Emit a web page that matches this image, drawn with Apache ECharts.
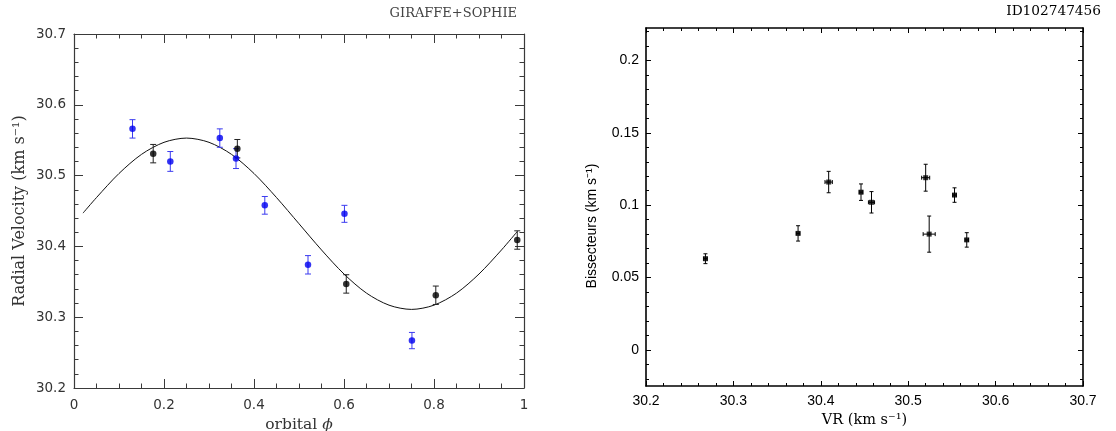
<!DOCTYPE html>
<html><head><meta charset="utf-8">
<script src="https://cdn.jsdelivr.net/npm/echarts@6/dist/echarts.min.js"></script>
<style>html,body{margin:0;padding:0;background:#fff}#c{width:1116px;height:431px}</style>
</head><body><div id="c"></div>
<script>
// ---- Left panel: radial velocity vs orbital phase ----
const phaseBlue = [0.130, 0.214, 0.324, 0.360, 0.424, 0.520, 0.601, 0.751];
const rvBlue    = [30.566, 30.520, 30.553, 30.524, 30.458, 30.374, 30.446, 30.267];
const errBlue   = [0.013, 0.014, 0.013, 0.014, 0.0125, 0.013, 0.012, 0.0115];
const phaseBlack = [0.176, 0.363, 0.605, 0.804, 0.985];
const rvBlack    = [30.531, 30.538, 30.347, 30.331, 30.409];
const errBlack   = [0.013, 0.013, 0.013, 0.013, 0.013];
// orbital fit
const fitPhase = [0.02, 0.05, 0.10, 0.15, 0.20, 0.25, 0.30, 0.35, 0.40, 0.45, 0.50, 0.55, 0.60, 0.65, 0.70, 0.75, 0.80, 0.85, 0.90, 0.95, 0.985];
const fitRV    = [30.447, 30.469, 30.503, 30.530, 30.547, 30.553, 30.547, 30.530, 30.503, 30.469, 30.432, 30.395, 30.361, 30.334, 30.317, 30.311, 30.317, 30.334, 30.361, 30.395, 30.421];
// ---- Right panel: bisector vs VR ----
const vr     = [30.268, 30.374, 30.409, 30.446, 30.458, 30.520, 30.524, 30.553, 30.567];
const bis    = [0.063, 0.0805, 0.116, 0.109, 0.102, 0.119, 0.080, 0.107, 0.076];
const vrErr  = [0.002, 0.002, 0.0042, 0.002, 0.0035, 0.0046, 0.0069, 0.002, 0.002];
const bisErr = [0.0034, 0.0053, 0.0074, 0.0057, 0.0074, 0.0093, 0.0125, 0.005, 0.005];
const bisMajorTicks = [0, 0.05, 0.1, 0.15, 0.2];
const bisMinorTicks = [-0.02, -0.01, 0.01, 0.02, 0.03, 0.04, 0.06, 0.07, 0.08, 0.09, 0.11, 0.12, 0.13, 0.14, 0.16, 0.17, 0.18, 0.19, 0.21, 0.22];

const zip2 = (a, b) => a.map((v, i) => [v, b[i]]);

function errRender(color, cap) {
  return function (params, api) {
    const x = api.value(0), y = api.value(1), ex = api.value(2), ey = api.value(3);
    const st = { stroke: color, lineWidth: 1 };
    const ch = [];
    if (ey > 0) {
      const a = api.coord([x, y + ey]), b = api.coord([x, y - ey]);
      ch.push({ type: 'line', shape: { x1: a[0], y1: a[1], x2: b[0], y2: b[1] }, style: st });
      ch.push({ type: 'line', shape: { x1: a[0] - cap, y1: a[1], x2: a[0] + cap, y2: a[1] }, style: st });
      ch.push({ type: 'line', shape: { x1: b[0] - cap, y1: b[1], x2: b[0] + cap, y2: b[1] }, style: st });
    }
    if (ex > 0) {
      const a = api.coord([x - ex, y]), b = api.coord([x + ex, y]);
      ch.push({ type: 'line', shape: { x1: a[0], y1: a[1], x2: b[0], y2: b[1] }, style: st });
      ch.push({ type: 'line', shape: { x1: a[0], y1: a[1] - cap, x2: a[0], y2: a[1] + cap }, style: st });
      ch.push({ type: 'line', shape: { x1: b[0], y1: b[1] - cap, x2: b[0], y2: b[1] + cap }, style: st });
    }
    return { type: 'group', children: ch };
  };
}

const L = '#3a3a3a', R = '#000';
const leftLbl = { fontFamily: 'DejaVu Sans', fontSize: 13.5, color: '#333' };
const rightLbl = { fontFamily: 'Liberation Sans', fontSize: 14, color: '#000' };

function lx(pos, show) {
  return {
    gridIndex: 0, type: 'value', position: pos, min: 0, max: 1, interval: 0.2,
    axisLine: { onZero: false, lineStyle: { color: L, width: 1.2 } },
    axisTick: { inside: true, length: 9, lineStyle: { color: L } },
    minorTick: { show: true, splitNumber: 4, length: 4.5, lineStyle: { color: L } },
    splitLine: { show: false },
    axisLabel: Object.assign({ show: show, margin: 10 }, leftLbl),
    name: show ? 'orbital {i|ϕ}' : '', nameLocation: 'middle', nameGap: 24,
    nameTextStyle: { fontFamily: 'DejaVu Serif', fontSize: 15.5, color: '#333',
      rich: { i: { fontFamily: 'DejaVu Serif', fontSize: 15.5, fontStyle: 'italic', color: '#333' } } }
  };
}
function ly(pos, show) {
  return {
    gridIndex: 0, type: 'value', position: pos, min: 30.2, max: 30.7, interval: 0.1,
    axisLine: { onZero: false, lineStyle: { color: L, width: 1.2 } },
    axisTick: { inside: true, length: 9, lineStyle: { color: L } },
    minorTick: { show: true, splitNumber: 5, length: 4.5, lineStyle: { color: L } },
    splitLine: { show: false },
    axisLabel: Object.assign({ show: show, margin: 8 }, leftLbl),
    name: show ? 'Radial Velocity (km s⁻¹)' : '', nameLocation: 'middle', nameGap: 46,
    nameTextStyle: { fontFamily: 'DejaVu Serif', fontSize: 16, color: '#333' }
  };
}
function rx(pos, show) {
  return {
    gridIndex: 1, type: 'value', position: pos, min: 30.2, max: 30.7, interval: 0.1,
    axisLine: { onZero: false, lineStyle: { color: R, width: 1.6 } },
    axisTick: { inside: true, length: 5, lineStyle: { color: R } },
    minorTick: { show: true, splitNumber: 5, length: 3, lineStyle: { color: R } },
    splitLine: { show: false },
    axisLabel: Object.assign({ show: show, margin: 8 }, rightLbl),
    name: show ? 'VR (km s⁻¹)' : '', nameLocation: 'middle', nameGap: 27,
    nameTextStyle: { fontFamily: 'DejaVu Serif', fontSize: 14.5, color: '#000' }
  };
}
function ry(pos, show, minor) {
  return {
    gridIndex: 1, type: 'value', position: pos, min: -0.025, max: 0.2225,
    axisLine: { show: !minor, onZero: false, lineStyle: { color: R, width: 1.6 } },
    axisTick: { inside: true, length: minor ? 3 : 5, customValues: minor ? bisMinorTicks : bisMajorTicks, lineStyle: { color: R } },
    splitLine: { show: false },
    axisLabel: Object.assign({ show: show, margin: 7, customValues: bisMajorTicks }, rightLbl)
  };
}

const chart = echarts.init(document.getElementById('c'), null, { renderer: 'canvas' });
chart.setOption({
  animation: false,
  backgroundColor: '#fff',
  grid: [
    { left: 74, right: 592, top: 34, bottom: 43, containLabel: false, outerBoundsMode: 'none' },
    { left: 646, right: 33, top: 28, bottom: 45, containLabel: false, outerBoundsMode: 'none' }
  ],
  xAxis: [lx('bottom', true), lx('top', false), rx('bottom', true), rx('top', false)],
  yAxis: [ly('left', true), ly('right', false), ry('left', true, false), ry('right', false, false), ry('left', false, true), ry('right', false, true)],
  graphic: [
    { type: 'text', right: 1116 - 517, top: 7, style: { text: 'GIRAFFE+SOPHIE', font: '13px "DejaVu Serif"', fill: '#444' } },
    { type: 'text', right: 1116 - 1101, top: 4, style: { text: 'ID102747456', font: '13.7px "DejaVu Serif"', fill: '#000' } },
    { type: 'text', x: 592, y: 226, rotation: Math.PI / 2,
      style: { text: 'Bissecteurs (km s⁻¹)', font: '14px "Liberation Sans"', fill: '#000', align: 'center', verticalAlign: 'middle' } }
  ],
  series: [
    { type: 'line', xAxisIndex: 0, yAxisIndex: 0, data: zip2(fitPhase, fitRV), showSymbol: false, smooth: 0.3,
      lineStyle: { color: '#111', width: 1 }, z: 1 },
    { type: 'custom', xAxisIndex: 0, yAxisIndex: 0, renderItem: errRender('#3b3bf0', 3),
      data: phaseBlue.map((p, i) => [p, rvBlue[i], 0, errBlue[i]]), encode: { x: 0, y: 1 }, z: 2 },
    { type: 'custom', xAxisIndex: 0, yAxisIndex: 0, renderItem: errRender('#222', 3),
      data: phaseBlack.map((p, i) => [p, rvBlack[i], 0, errBlack[i]]), encode: { x: 0, y: 1 }, z: 2 },
    { type: 'scatter', xAxisIndex: 0, yAxisIndex: 0, data: zip2(phaseBlue, rvBlue), symbol: 'circle', symbolSize: 6.5,
      itemStyle: { color: '#0000f0' }, z: 3 },
    { type: 'scatter', xAxisIndex: 0, yAxisIndex: 0, data: zip2(phaseBlack, rvBlack), symbol: 'circle', symbolSize: 6.5,
      itemStyle: { color: '#000' }, z: 3 },
    { type: 'custom', xAxisIndex: 2, yAxisIndex: 2, renderItem: errRender('#000', 2),
      data: vr.map((v, i) => [v, bis[i], vrErr[i], bisErr[i]]), encode: { x: 0, y: 1 }, z: 2 },
    { type: 'scatter', xAxisIndex: 2, yAxisIndex: 2, data: zip2(vr, bis), symbol: 'rect', symbolSize: 5,
      itemStyle: { color: '#000' }, z: 3 }
  ]
});
</script>
</body></html>
